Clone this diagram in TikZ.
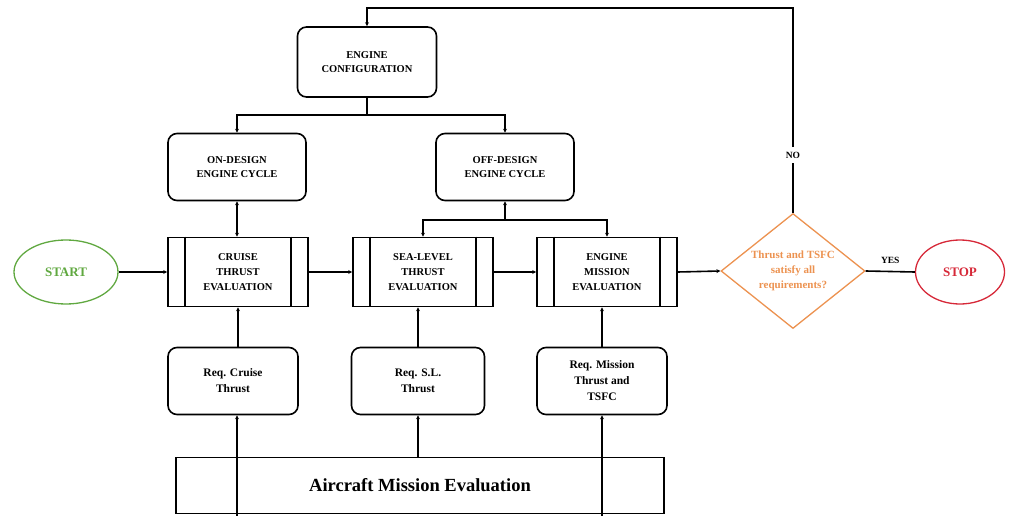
\documentclass[tikz,border=0pt]{standalone}
\usepackage{fontspec}
\setmainfont{Liberation Serif}
\usetikzlibrary{shapes.geometric,arrows.meta}
\definecolor{startgreen}{RGB}{96,168,64}
\definecolor{stopred}{RGB}{214,40,56}
\definecolor{decorange}{RGB}{236,146,80}
\begin{document}
\begin{tikzpicture}[x=1pt,y=-1pt,
  line width=1.6pt,
  tip/.style={-{Stealth[length=4pt,width=4pt]}},
  biarrow/.style={{Stealth[length=4pt,width=4pt]}-{Stealth[length=4pt,width=4pt]}},
  roundbox/.style={draw, rounded corners=9pt, minimum width=#1, minimum height=67pt,
    align=center, inner sep=2pt, font=\bfseries\fontsize{10.5}{14}\selectfont},
  procbox/.style={draw, minimum width=140pt, minimum height=69pt, align=center,
    inner sep=2pt, font=\bfseries\fontsize{10.5}{15}\selectfont},
  reqbox/.style={draw, rounded corners=9pt, minimum width=#1, minimum height=67pt,
    align=center, inner sep=2pt, font=\bfseries\fontsize{11.5}{16}\selectfont},
  terminal/.style={draw, ellipse, minimum width=#1, minimum height=64pt, line width=1.3pt,
    font=\bfseries\fontsize{13}{15}\selectfont},
  lbl/.style={font=\bfseries\fontsize{9.5}{10}\selectfont, inner sep=1pt}
]
\useasboundingbox (0,0) rectangle (1010,516);

% configuration and design cycles
\node[roundbox=139pt, minimum height=70pt] (cfg) at (367,62) {ENGINE\\CONFIGURATION};
\node[roundbox=138pt] (ondes) at (237,167) {ON-DESIGN\\ENGINE CYCLE};
\node[roundbox=138pt] (offdes) at (505,167) {OFF-DESIGN\\ENGINE CYCLE};

% evaluation blocks with side bars
\node[procbox] (cruise) at (238,272) {CRUISE\\THRUST\\EVALUATION};
\node[procbox] (sealevel) at (423,272) {SEA-LEVEL\\THRUST\\EVALUATION};
\node[procbox] (mission) at (607,272) {ENGINE\\MISSION\\EVALUATION};
\foreach \b in {cruise,sealevel,mission}{
  \draw ([xshift=18pt]\b.north west) -- ([xshift=18pt]\b.south west);
  \draw ([xshift=-18pt]\b.north east) -- ([xshift=-18pt]\b.south east);
}

% start / decision / stop
\node[terminal=104pt, draw=startgreen, text=startgreen] (start) at (66,272) {START};
\node[draw=decorange, shape=diamond, aspect=1.26, inner sep=0pt,
  minimum width=144pt, minimum height=115pt, line width=1.3pt,
  label={[text=decorange, align=center,
    font=\bfseries\fontsize{11}{15}\selectfont]center:Thrust and TSFC\\satisfy all\\requirements?}]
  (dec) at (793,271) {};
\node[terminal=89pt, draw=stopred, text=stopred] (stop) at (960,272) {STOP};

% requirement boxes
\node[reqbox=130pt] (reqcr) at (233,381) {Req. Cruise\\Thrust};
\node[reqbox=133pt] (reqsl) at (418,381) {Req. S.L.\\Thrust};
\node[reqbox=130pt] (reqmi) at (602,381) {Req. Mission\\Thrust and\\TSFC};

% aircraft mission evaluation
\node[draw, minimum width=488pt, minimum height=56pt,
  font=\bfseries\fontsize{18.5}{20}\selectfont] (acm) at (420,485.5) {Aircraft Mission Evaluation};

% configuration to design cycles
\coordinate (split1) at (367,115);
\draw (cfg.south) -- (split1);
\draw[tip] (split1) -| (ondes.north);
\draw[tip] (split1) -| (offdes.north);

% design cycles to evaluations
\draw[biarrow] (ondes.south) -- (ondes.south |- cruise.north);
\coordinate (split2) at (505,220);
\draw[{Stealth[length=4pt,width=4pt]}-] (offdes.south) -- (split2);
\draw[tip] (split2) -| (sealevel.north);
\draw[tip] (split2) -| (mission.north);

% main flow
\draw[tip] (start.east) -- (cruise.west);
\draw[tip] (cruise.east) -- (sealevel.west);
\draw[tip] (sealevel.east) -- (mission.west);
\draw[tip] (mission.east) -- (dec.west);
\draw (dec.east) -- node[lbl, above=6pt] {YES} (stop.west);

% feedback loop
\coordinate (loopR) at (793,8);
\coordinate (loopL) at (367,8);
\node[lbl, fill=white, inner sep=4pt] (no) at (793,155) {NO};
\draw (dec.north) -- (no.south);
\draw[tip] (no.north) -- (loopR) -- (loopL) -- (cfg.north);

% requirements into evaluations
\draw[tip] (reqcr.north -| cruise.south) -- (cruise.south);
\draw[tip] (reqsl.north) -- (reqsl.north |- sealevel.south);
\draw[tip] (reqmi.north) -- (reqmi.north |- mission.south);

% aircraft mission evaluation into requirements
\coordinate (feedA) at (237,516);
\coordinate (feedC) at (602,516);
\draw[tip] (feedA) -- (feedA |- reqcr.south);
\draw[tip] (acm.north -| reqsl.south) -- (reqsl.south);
\draw[tip] (feedC) -- (reqmi.south);
\end{tikzpicture}
\end{document}
